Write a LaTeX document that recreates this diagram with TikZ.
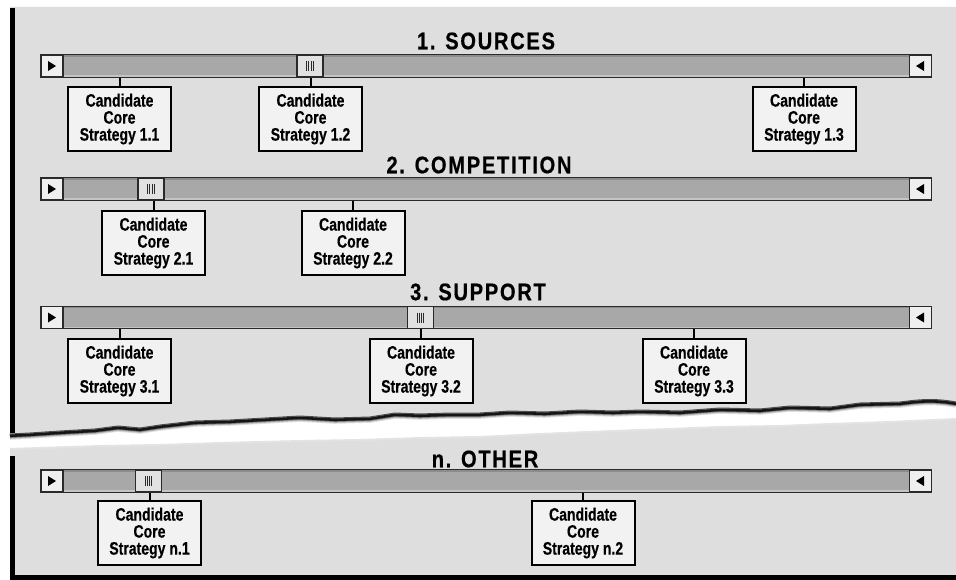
\documentclass[tikz,border=0pt]{standalone}
\usepackage{fontspec}
\newfontfamily\cond{Liberation Sans}[FakeStretch=0.78, FakeBold=0.4]
\newfontfamily\condt{Liberation Sans}[FakeStretch=0.84, LetterSpace=7, FakeBold=0.5]
\usetikzlibrary{calc}
\definecolor{panel}{HTML}{DEDEDE}
\definecolor{barfill}{HTML}{A8A8A8}
\definecolor{bardark}{HTML}{8C8C8C}
\definecolor{barlight}{HTML}{C4C4C4}
\definecolor{boxfill}{HTML}{F2F2F2}
\definecolor{btnfill}{HTML}{EFEFEF}
\definecolor{edge}{HTML}{2A2A2A}
\tikzset{
  cand/.style={draw=black, line width=2pt, fill=boxfill, minimum width=103pt, minimum height=64pt,
    inner sep=0pt, align=center, font=\cond\bfseries\fontsize{18}{17}\selectfont},
  ttl/.style={font=\condt\bfseries\fontsize{24}{24}\selectfont, inner sep=0pt},
  barbox/.style={draw=edge, line width=1.3pt, fill=barfill, minimum height=22pt, inner sep=0pt},
  btn/.style={draw=edge, line width=1.3pt, fill=btnfill, minimum width=22pt, minimum height=22pt, inner sep=0pt},
  thumb/.style={draw=edge, line width=1.6pt, fill=boxfill!85!gray, minimum width=26pt, minimum height=22pt, inner sep=0pt},
  conn/.style={line width=2pt, draw=black},
  grip/.style={draw=edge, line width=1pt},
  tear/.style={line join=round},
}
\newcommand\barshade[1]{%
  \draw[bardark, line width=1.6pt] ($(#1.north west)+(1,1.8)$) -- ($(#1.north east)+(-1,1.8)$);
  \draw[barlight, line width=1.6pt] ($(#1.south west)+(1,-1.8)$) -- ($(#1.south east)+(-1,-1.8)$);}
\begin{document}
\begin{tikzpicture}[x=1pt,y=-1pt]
\useasboundingbox (0,0) rectangle (956,580);
\fill[white] (0,0) rectangle (956,580);
\def\tearpath{(956,402)
  .. controls (930,397) and (910,401) .. (900,402)
  -- (860,403) -- (830,407) -- (790,406) -- (760,409) -- (720,408) -- (680,411) -- (640,410) -- (613,411)
  -- (580,410) -- (545,412) -- (510,411) -- (480,413) -- (450,413) -- (420,414) -- (395,413) -- (370,417)
  -- (335,418) -- (300,416) -- (265,418) -- (230,420) -- (195,421) -- (160,425) -- (140,428) -- (118,426)
  -- (95,429) -- (60,431) -- (30,433) -- (10,434)}
% top piece shadow (soft)
\foreach \w/\o in {8/0.12,6/0.2,4/0.4,2.6/0.8}
  \draw[black, line width=\w pt, tear, opacity=\o, yshift=-1.8pt] \tearpath;
\fill[panel] (10,7) -- (956,7) -- \tearpath -- cycle;
\draw[black!70, line width=1pt, tear] \tearpath;
\draw[black, line width=4.5pt] (12.5,8) -- (12.5,433);
% bottom piece
\fill[panel!85!white] (10,448) -- (40,447) -- (100,445) -- (160,444) -- (220,442) -- (300,440) -- (360,439)
  -- (420,437) -- (480,436) -- (540,433) -- (613,430) -- (670,428) -- (720,426) -- (780,425) -- (830,423)
  -- (890,421) -- (956,418) -- (956,580) -- (10,580) -- cycle;
\fill[panel] (10,450) -- (40,449) -- (100,447) -- (160,446) -- (220,444) -- (300,442) -- (360,441)
  -- (420,439) -- (480,438) -- (540,435) -- (613,432) -- (670,430) -- (720,428) -- (780,427) -- (830,425)
  -- (890,423) -- (956,420) -- (956,580) -- (10,580) -- cycle;
\draw[black, line width=4.5pt] (12.5,456) -- (12.5,577.5) -- (956,577.5);

% Slider 1
\node[ttl] (t1) at (486,41) {1. SOURCES};
\node[barbox, minimum width=847pt] (bar1) at (486.5,66) {};
\barshade{bar1}
\node[btn] (l1) at (52,66) {};
\node[btn] (r1) at (920.5,66) {};
\fill (48,61) -- (56,66) -- (48,71) -- cycle;
\fill (924,61) -- (916,66) -- (924,71) -- cycle;
\node[thumb] (k1) at (310,66) {};
\foreach \i in {-3.3,-1.1,1.1,3.3} \draw[grip] ($(k1.center)+(\i,-5)$) -- ++(0,10);
\node[cand] (b11) at (119.5,119) {Candidate\\Core\\Strategy 1.1};
\node[cand] (b12) at (310.5,119) {Candidate\\Core\\Strategy 1.2};
\node[cand] (b13) at (804,119) {Candidate\\Core\\Strategy 1.3};
\foreach \b in {b11,b12,b13} \draw[conn] (\b.north) -- (\b.north |- bar1.south);

% Slider 2
\node[ttl] (t2) at (479,165) {2. COMPETITION};
\node[barbox, minimum width=847pt] (bar2) at (486.5,189) {};
\barshade{bar2}
\node[btn] (l2) at (52,189) {};
\node[btn] (r2) at (920.5,189) {};
\fill (48,184) -- (56,189) -- (48,194) -- cycle;
\fill (924,184) -- (916,189) -- (924,194) -- cycle;
\node[thumb] (k2) at (151,189) {};
\foreach \i in {-3.3,-1.1,1.1,3.3} \draw[grip] ($(k2.center)+(\i,-5)$) -- ++(0,10);
\node[cand] (b21) at (153.5,243) {Candidate\\Core\\Strategy 2.1};
\node[cand] (b22) at (353,243) {Candidate\\Core\\Strategy 2.2};
\foreach \b in {b21,b22} \draw[conn] (\b.north) -- (\b.north |- bar2.south);

% Slider 3
\node[ttl] (t3) at (478,292) {3. SUPPORT};
\node[barbox, minimum width=847pt] (bar3) at (486.5,317.5) {};
\barshade{bar3}
\node[btn] (l3) at (52,317.5) {};
\node[btn] (r3) at (920.5,317.5) {};
\fill (48,312.5) -- (56,317.5) -- (48,322.5) -- cycle;
\fill (924,312.5) -- (916,317.5) -- (924,322.5) -- cycle;
\node[thumb] (k3) at (420.5,317.5) {};
\foreach \i in {-3.3,-1.1,1.1,3.3} \draw[grip] ($(k3.center)+(\i,-5)$) -- ++(0,10);
\node[cand] (b31) at (119.5,371) {Candidate\\Core\\Strategy 3.1};
\node[cand] (b32) at (421,371) {Candidate\\Core\\Strategy 3.2};
\node[cand] (b33) at (694,371) {Candidate\\Core\\Strategy 3.3};
\foreach \b in {b31,b32,b33} \draw[conn] (\b.north) -- (\b.north |- bar3.south);

% Slider n
\node[ttl] (tn) at (485,459) {n. OTHER};
\node[barbox, minimum width=847pt] (barn) at (486.5,481) {};
\barshade{barn}
\node[btn] (ln) at (52,481) {};
\node[btn] (rn) at (920.5,481) {};
\fill (48,476) -- (56,481) -- (48,486) -- cycle;
\fill (924,476) -- (916,481) -- (924,486) -- cycle;
\node[thumb] (kn) at (148.5,481) {};
\foreach \i in {-3.3,-1.1,1.1,3.3} \draw[grip] ($(kn.center)+(\i,-5)$) -- ++(0,10);
\node[cand] (bn1) at (149.5,533) {Candidate\\Core\\Strategy n.1};
\node[cand] (bn2) at (583,533) {Candidate\\Core\\Strategy n.2};
\foreach \b in {bn1,bn2} \draw[conn] (\b.north) -- (\b.north |- barn.south);
\end{tikzpicture}
\end{document}
